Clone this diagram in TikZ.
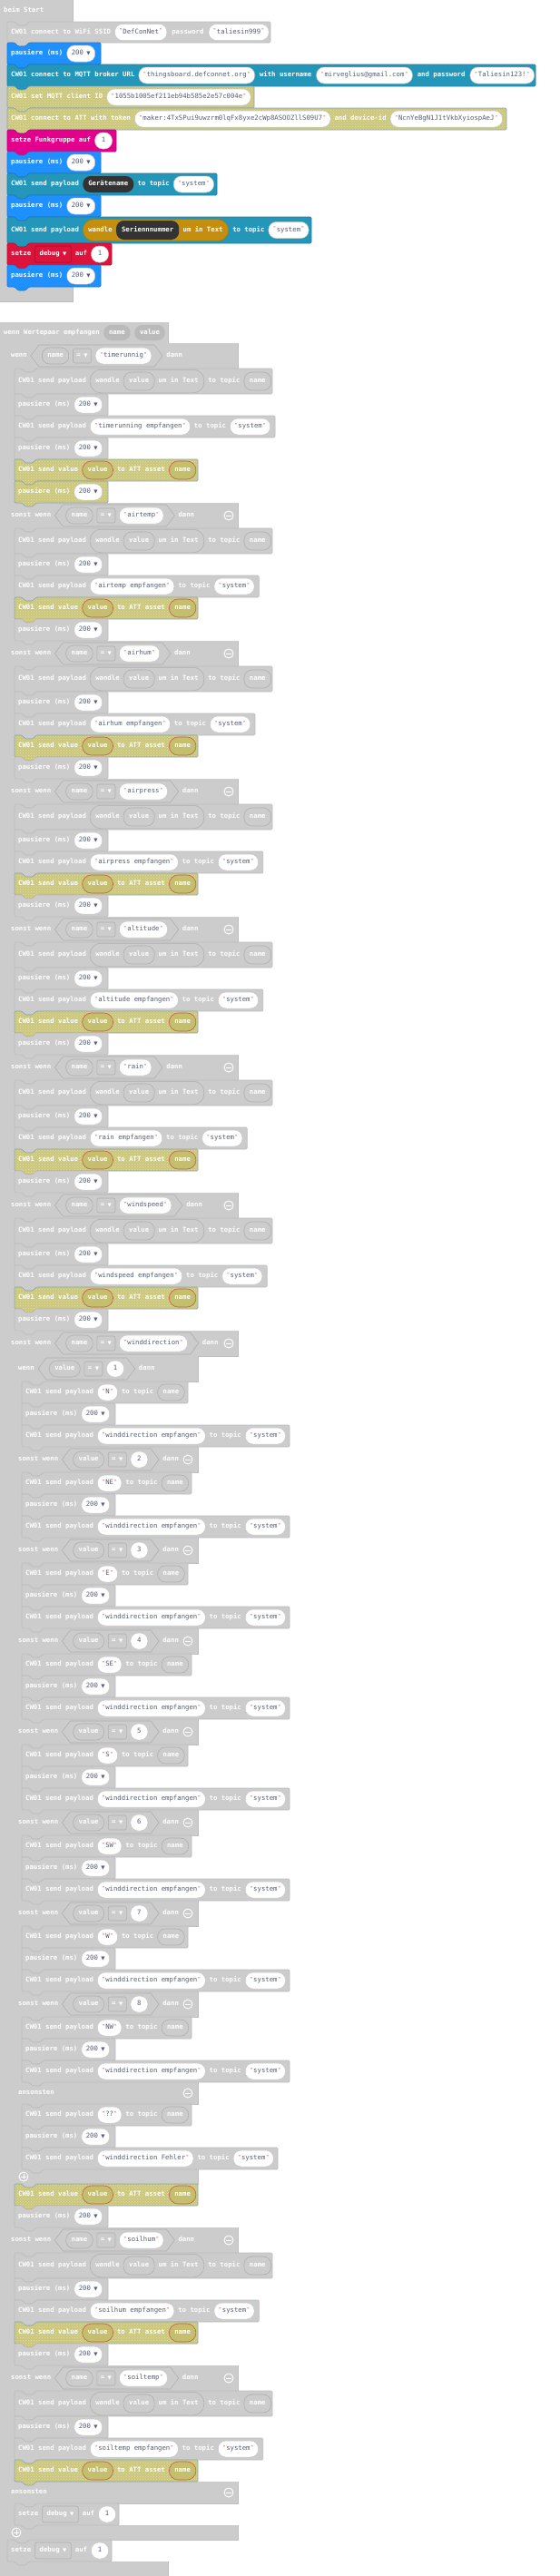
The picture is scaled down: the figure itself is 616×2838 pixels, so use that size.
\documentclass[tikz,border=0pt]{standalone}
\usepackage{fontspec}
\newfontfamily\blkfont{DejaVu Sans Mono}
\newfontfamily\symfont{DejaVu Sans}
\usetikzlibrary{positioning,calc,fit,patterns}

\definecolor{gfill}{RGB}{204,204,204}
\definecolor{gborder}{RGB}{188,188,188}
\definecolor{vborder}{RGB}{175,175,175}
\definecolor{hvfill}{RGB}{186,186,186}
\definecolor{pillb}{RGB}{200,200,200}
\definecolor{strtext}{RGB}{87,94,117}
\definecolor{qred}{RGB}{225,70,70}
\definecolor{mblue}{RGB}{30,144,255}
\definecolor{mblueb}{RGB}{25,120,215}
\definecolor{mteal}{RGB}{36,150,186}
\definecolor{mtealb}{RGB}{30,125,160}
\definecolor{mmag}{RGB}{227,0,140}
\definecolor{mmagb}{RGB}{190,0,118}
\definecolor{mred}{RGB}{220,20,60}
\definecolor{mredb}{RGB}{185,15,50}
\definecolor{mredbox}{RGB}{170,10,40}
\definecolor{olfill}{RGB}{203,199,125}
\definecolor{oldot}{RGB}{225,222,165}
\definecolor{olborder}{RGB}{140,165,175}
\definecolor{olvarfill}{RGB}{196,190,110}
\definecolor{rust}{RGB}{190,95,70}
\definecolor{dkvar}{RGB}{51,51,51}
\definecolor{mgold}{RGB}{196,142,14}
\definecolor{mgoldb}{RGB}{170,122,10}

\pgfdeclarelayer{bg}
\pgfdeclarelayer{mid}
\pgfsetlayers{bg,mid,main}

\tikzset{
every node/.style={font=\blkfont\bfseries\fontsize{7.3}{8}\selectfont, inner sep=0pt, text height=5.4pt, text depth=1.6pt},
lbl/.style={text=white, anchor=west},
blkline/.style={line width=0.6pt, rounded corners=1.2pt},
gblk/.style={blkline, fill=gfill, draw=gborder},
blueblk/.style={blkline, fill=mblue, draw=mblueb},
tealblk/.style={blkline, fill=mteal, draw=mtealb},
magblk/.style={blkline, fill=mmag, draw=mmagb},
redblk/.style={blkline, fill=mred, draw=mredb},
olblk/.style={blkline, preaction={fill=olfill}, pattern=crosshatch dots, pattern color=oldot, draw=olborder},
pill/.style={rectangle, rounded corners=8.5pt, minimum height=18pt, inner xsep=5pt},
strpill/.style={pill, fill=white, draw=pillb, line width=0.5pt, text=strtext, font=\blkfont\fontsize{7.3}{8}\selectfont},
numpill/.style={strpill, minimum width=19pt},
ddpill/.style={strpill},
varg/.style={pill, fill=gfill, draw=vborder, line width=0.6pt, text=white, inner xsep=6pt},
hatvar/.style={pill, fill=hvfill, text=white, inner xsep=6pt, minimum height=17pt},
darkvar/.style={pill, fill=dkvar, text=white, inner xsep=6pt},
olvar/.style={pill, fill=olvarfill, draw=rust, line width=0.6pt, text=white, inner xsep=6pt, minimum height=20pt, rounded corners=10pt},
eqbox/.style={rectangle, rounded corners=2pt, fill=gfill, draw=vborder, line width=0.6pt, text=white, minimum height=16pt, inner xsep=4pt},
redbox/.style={eqbox, fill=mred, draw=mredbox, minimum height=18pt, inner xsep=5pt},
gbox/.style={eqbox, minimum height=18pt, inner xsep=5pt},
convg/.style={rounded corners=12pt, fill=gfill, draw=vborder, line width=0.6pt, inner xsep=6pt, inner ysep=2.5pt},
convgold/.style={convg, fill=mgold, draw=mgoldb, inner ysep=1.2pt},
hexa/.style={fill=gfill, draw=vborder, line width=0.6pt, line join=round},
icon/.style={circle, draw=white, line width=0.9pt, minimum size=10pt}
}

% quotes and dropdown arrow
\newcommand\qm{{\color{qred}\raisebox{1.6pt}{\fontsize{5.5}{5}\selectfont"}}}
\newcommand\qs[1]{\qm\kern0.6pt#1\kern0.6pt\qm}
\newcommand\dda{\kern3.5pt{\symfont\fontsize{5.5}{5}\selectfont\raisebox{0.4pt}{▼}}}

% block outline: style, x1, x2, ytop, height
\newcommand\blk[5]{%
\begin{pgfonlayer}{bg}
\draw[#1] ({#2},{#4}) -- ++(8,0) -- ++(4,4) -- ++(8,0) -- ++(4,-4) -- ({#3},{#4}) -- ({#3},{#4+#5}) -- ({#2+24},{#4+#5}) -- ++(-4,4) -- ++(-8,0) -- ++(-4,-4) -- ({#2},{#4+#5}) -- cycle;
\end{pgfonlayer}}

% tab below a grey C header: x of tab start, y
\newcommand\tabat[2]{%
\begin{pgfonlayer}{bg}
\draw[gblk] ({#1},{#2}) -- ++(4,4) -- ++(8,0) -- ++(4,-4);
\end{pgfonlayer}}

% C shaped blocks from a list of rectangles
\newcommand\cshape[1]{%
\begin{pgfonlayer}{bg}
\draw[gborder, line width=1pt] #1;
\fill[gfill] #1;
\end{pgfonlayer}}

\newcommand\minusic[3]{%
\node[icon] (#1) at ({#2},{#3}) {};
\draw[white, line width=1pt] ($(#1)+(-2.8,0)$) -- ($(#1)+(2.8,0)$);}
\newcommand\plusic[3]{%
\node[icon] (#1) at ({#2},{#3}) {};
\draw[white, line width=1pt] ($(#1)+(-2.8,0)$) -- ($(#1)+(2.8,0)$) ($(#1)+(0,-2.8)$) -- ($(#1)+(0,2.8)$);}

\newcommand\pausiere[4]{%
\blk{#2}{#3}{#3+103}{#4}{24}
\node[lbl] (#1) at ({#3+4},{#4+12}) {pausiere (ms)};
\node[ddpill, right=4pt of #1] (#1-v) {200\dda};}

% id, style, x1, x2, ytop, payload, topic style, topic text
\newcommand\paystr[8]{%
\blk{#2}{#3}{#4}{#5}{24}
\node[lbl] (#1) at ({#3+4},{#5+12}) {CW01 send payload};
\node[strpill, right=4pt of #1] (#1-p) {\qs{#6}};
\node[lbl, right=4pt of #1-p] (#1-t) {to topic};
\node[#7, right=4pt of #1-t] (#1-s) {#8};}

\newcommand\payconv[2]{%
\blk{gblk}{16}{300}{#2}{28}
\node[lbl] (#1) at (20,{#2+14}) {CW01 send payload};
\node[lbl, right=10pt of #1] (#1-a) {wandle};
\node[varg, minimum height=20pt, right=4pt of #1-a] (#1-v) {value};
\node[lbl, right=4pt of #1-v] (#1-b) {um in Text};
\begin{pgfonlayer}{mid}
\node[convg, fit=(#1-a)(#1-v)(#1-b)] (#1-w) {};
\end{pgfonlayer}
\node[lbl, right=4pt of #1-w] (#1-t) {to topic};
\node[varg, minimum height=20pt, right=4pt of #1-t] (#1-s) {name};}

\newcommand\sendval[2]{%
\blk{olblk}{16}{218}{#2}{24}
\node[lbl] (#1) at (20,{#2+12}) {CW01 send value};
\node[olvar, right=4pt of #1] (#1-v) {value};
\node[lbl, right=4pt of #1-v] (#1-t) {to ATT asset};
\node[olvar, right=4pt of #1-t] (#1-n) {name};}

% id, block style, box style, x1, ytop
\newcommand\setdebug[5]{%
\blk{#2}{#4}{#4+115}{#5}{24}
\node[lbl] (#1) at ({#4+4},{#5+12}) {setze};
\node[#3, right=4pt of #1] (#1-v) {debug\dda};
\node[lbl, right=4pt of #1-v] (#1-a) {auf};
\node[numpill, right=4pt of #1-a] (#1-n) {1};}

% id, x1, ytop, keyword, left var, right style, right text
\newcommand\cond[7]{%
\tabat{#2+16}{#3+28}
\node[lbl] (#1) at ({#2+4},{#3+14}) {#4};
\node[varg, right=16pt of #1] (#1-l) {#5};
\node[eqbox, right=4pt of #1-l] (#1-e) {=\dda};
\node[#6, right=4pt of #1-e] (#1-r) {#7};
\begin{pgfonlayer}{mid}
\draw[hexa] ($(#1-l.west)+(-12,0)$) -- ++(9,-12) -- ($(#1-r.east)+(3,-12)$) -- ++(9,12) -- ++(-9,12) -- ($(#1-l.west)+(-3,12)$) -- cycle;
\end{pgfonlayer}
\node[lbl, right=16pt of #1-r] (#1-d) {dann};}

% id, ytop, topic name, right edge of the empfangen block
\newcommand\branch[4]{%
\cond{#1}{8}{#2}{sonst wenn}{name}{strpill}{\qs{#3}}
\minusic{#1-m}{252}{#2+14}
\payconv{#1a}{#2+28}
\pausiere{#1b}{gblk}{16}{#2+56}
\paystr{#1c}{gblk}{16}{#4}{#2+80}{#3 empfangen}{strpill}{\qs{system}}
\sendval{#1d}{#2+104}}

% id, ytop, keyword, number, direction, right edge
\newcommand\dirbranch[6]{%
\cond{#1}{16}{#2}{#3}{value}{numpill}{#4}
\paystr{#1a}{gblk}{24}{#6}{#2+28}{#5}{varg}{name}
\pausiere{#1b}{gblk}{24}{#2+52}
\paystr{#1c}{gblk}{24}{319}{#2+76}{winddirection empfangen}{strpill}{\qs{system}}}

\begin{document}
\begin{tikzpicture}[x=1pt,y=-1pt]
\useasboundingbox (0,0) rectangle (616,2838);

% beim Start
\cshape{(0,0) rectangle (80,24) (0,24) rectangle (8,316) (0,316) rectangle (80,332)}
\tabat{16}{24}
\node[lbl] (start) at (4,12) {beim Start};

\blk{gblk}{8}{298}{24}{23}
\node[lbl] (wifi) at (12,35.5) {CW01 connect to WiFi SSID};
\node[strpill, right=4pt of wifi] (wifi-s) {\qs{DefConNet}};
\node[lbl, right=5pt of wifi-s] (wifi-p) {password};
\node[strpill, right=5pt of wifi-p] (wifi-k) {\qs{taliesin999}};

\pausiere{p1}{blueblk}{8}{47}

\blk{tealblk}{8}{590}{71}{24}
\node[lbl] (mqtt) at (12,83) {CW01 connect to MQTT broker URL};
\node[strpill, right=4pt of mqtt] (mqtt-u) {\qs{thingsboard.defconnet.org}};
\node[lbl, right=5pt of mqtt-u] (mqtt-a) {with username};
\node[strpill, right=5pt of mqtt-a] (mqtt-n) {\qs{mirveglius@gmail.com}};
\node[lbl, right=5pt of mqtt-n] (mqtt-b) {and password};
\node[strpill, right=5pt of mqtt-b] (mqtt-k) {\qs{Taliesin123!}};

\blk{olblk}{8}{280}{95}{24}
\node[lbl] (mqid) at (12,107) {CW01 set MQTT client ID};
\node[strpill, right=4pt of mqid] (mqid-s) {\qs{1055b1005ef211eb94b585e2e57c004e}};

\blk{olblk}{8}{558}{119}{24}
\node[lbl] (att) at (12,131) {CW01 connect to ATT with token};
\node[strpill, right=4pt of att] (att-t) {\qs{maker:4TxSPui9uwzrm0lqFx8yxe2cWp8ASOOZllS09U7}};
\node[lbl, right=4pt of att-t] (att-a) {and device-id};
\node[strpill, right=4pt of att-a] (att-d) {\qs{NcnYeBgN1J1tVkbXyiospAeJ}};

\blk{magblk}{8}{128}{143}{24}
\node[lbl] (funk) at (12,155) {setze Funkgruppe auf};
\node[numpill, right=4pt of funk] (funk-n) {1};

\pausiere{p2}{blueblk}{8}{167}

\blk{tealblk}{8}{239}{191}{24}
\node[lbl] (geraet) at (12,203) {CW01 send payload};
\node[darkvar, right=4pt of geraet] (geraet-v) {Gerätename};
\node[lbl, right=4pt of geraet-v] (geraet-t) {to topic};
\node[strpill, right=4pt of geraet-t] (geraet-s) {\qs{system}};

\pausiere{p3}{blueblk}{8}{215}

\blk{tealblk}{8}{343}{239}{29}
\node[lbl] (serien) at (12,253.5) {CW01 send payload};
\node[lbl, right=10pt of serien] (serien-a) {wandle};
\node[darkvar, minimum height=21pt, right=4pt of serien-a] (serien-v) {Seriennnummer};
\node[lbl, right=4pt of serien-v] (serien-b) {um in Text};
\begin{pgfonlayer}{mid}
\node[convgold, fit=(serien-a)(serien-v)(serien-b)] (serien-w) {};
\end{pgfonlayer}
\node[lbl, right=4pt of serien-w] (serien-t) {to topic};
\node[strpill, right=4pt of serien-t] (serien-s) {\qs{system}};

\setdebug{dbg1}{redblk}{redbox}{8}{268}
\pausiere{p4}{blueblk}{8}{292}

% wenn Wertepaar empfangen
\cshape{(0,355) rectangle (185,378) (0,378) rectangle (8,2822) (0,2822) rectangle (185,2838)}
\node[lbl] (wp) at (4,366.5) {wenn Wertepaar empfangen};
\node[hatvar, right=4pt of wp] (wp-n) {name};
\node[hatvar, right=4pt of wp-n] (wp-v) {value};

\cshape{(8,378) rectangle (16,2798) foreach \yy in {378,554,706,858,1010,1162,1314,1466,2454,2606} {(8,\yy) rectangle (262,{\yy+28})} (8,2734) rectangle (262,2758) (8,2782) rectangle (262,2798)}

\cond{c0}{8}{378}{wenn}{name}{strpill}{\qs{timerunnig}}
\payconv{t1}{406}
\pausiere{t2}{gblk}{16}{434}
\paystr{t3}{gblk}{16}{303}{458}{timerunning empfangen}{strpill}{\qs{system}}
\pausiere{t4}{gblk}{16}{482}
\sendval{t5}{506}
\pausiere{t6}{olblk}{16}{530}

\branch{b1}{554}{airtemp}{285.4}
\pausiere{b1e}{gblk}{16}{682}
\branch{b2}{706}{airhum}{281}
\pausiere{b2e}{gblk}{16}{834}
\branch{b3}{858}{airpress}{289.8}
\pausiere{b3e}{gblk}{16}{986}
\branch{b4}{1010}{altitude}{289.8}
\pausiere{b4e}{gblk}{16}{1138}
\branch{b5}{1162}{rain}{272.2}
\pausiere{b5e}{gblk}{16}{1290}
\branch{b6}{1314}{windspeed}{294.2}
\pausiere{b6e}{gblk}{16}{1442}

% winddirection
\cond{wd}{8}{1466}{sonst wenn}{name}{strpill}{\qs{winddirection}}
\minusic{wd-m}{252}{1480}
\cshape{(16,1494) rectangle (24,2406) foreach \yy in {1494,1594,1694,1794,1894,1994,2094,2194} {(16,\yy) rectangle (218,{\yy+28})} (16,2294) rectangle (218,2318) (16,2390) rectangle (218,2406)}
\dirbranch{d1}{1494}{wenn}{1}{N}{207}
\dirbranch{d2}{1594}{sonst wenn}{2}{NE}{211}
\minusic{d2-m}{207}{1608}
\dirbranch{d3}{1694}{sonst wenn}{3}{E}{207}
\minusic{d3-m}{207}{1708}
\dirbranch{d4}{1794}{sonst wenn}{4}{SE}{211}
\minusic{d4-m}{207}{1808}
\dirbranch{d5}{1894}{sonst wenn}{5}{S}{207}
\minusic{d5-m}{207}{1908}
\dirbranch{d6}{1994}{sonst wenn}{6}{SW}{211}
\minusic{d6-m}{207}{2008}
\dirbranch{d7}{2094}{sonst wenn}{7}{W}{207}
\minusic{d7-m}{207}{2108}
\dirbranch{d8}{2194}{sonst wenn}{8}{NW}{211}
\minusic{d8-m}{207}{2208}
\tabat{32}{2318}
\node[lbl] (wde) at (20,2306) {ansonsten};
\minusic{wde-m}{207}{2306}
\paystr{wdf}{gblk}{24}{211}{2318}{??}{varg}{name}
\pausiere{wdg}{gblk}{24}{2342}
\paystr{wdh}{gblk}{24}{306}{2366}{winddirection Fehler}{strpill}{\qs{system}}
\tabat{24}{2406}
\plusic{wdi}{26}{2398}
\sendval{wdj}{2406}
\pausiere{wdk}{gblk}{16}{2430}

\branch{b8}{2454}{soilhum}{285.4}
\pausiere{b8e}{gblk}{16}{2582}
\branch{b9}{2606}{soiltemp}{289.8}

\tabat{24}{2758}
\node[lbl] (els) at (12,2746) {ansonsten};
\minusic{els-m}{252}{2746}
\setdebug{dbg2}{gblk}{gbox}{16}{2758}
\tabat{16}{2798}
\plusic{els-p}{18}{2790}
\setdebug{dbg3}{gblk}{gbox}{8}{2798}
\end{tikzpicture}
\end{document}
